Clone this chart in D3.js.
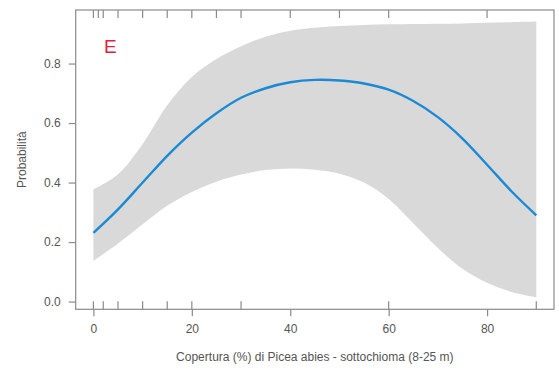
<!DOCTYPE html>
<html><head><meta charset="utf-8">
<script src="https://cdn.jsdelivr.net/npm/d3@7"></script>
<style>body{margin:0;background:#fff}svg{display:block}</style>
</head><body>
<script>
const xs    = [0,5,10,15,20,25,30,35,40,45,50,55,60,65,70,75,80,85,90];
const fit   = [0.231,0.31,0.40,0.49,0.568,0.633,0.685,0.717,0.737,0.745,0.743,0.733,0.712,0.674,0.62,0.548,0.46,0.37,0.29];
const upper = [0.377,0.428,0.53,0.66,0.755,0.815,0.858,0.89,0.91,0.92,0.926,0.93,0.932,0.933,0.934,0.935,0.937,0.939,0.941];
const lower = [0.137,0.195,0.26,0.322,0.368,0.403,0.427,0.442,0.447,0.443,0.43,0.4,0.345,0.263,0.18,0.11,0.063,0.032,0.014];
const rugTop    = [0,1,2,5,10,15,20,25,30,40,50,60,80];
const rugBottom = [0,2,5,10,15,20,30,60,90];
const xTicks = [0,20,40,60,80];
const yTicks = [0,0.2,0.4,0.6,0.8];
const xTitle = "Copertura (%) di Picea abies - sottochioma (8-25 m)";
const yTitle = "Probabilità";
const panel = "E";

const W=559,H=377;
const L=75.7,R=554,T=10,B=309.3;
const svg=d3.select("body").append("svg").attr("width",W).attr("height",H);
const x=d3.scaleLinear().domain([-3.6,93.6]).range([L,R]);
const y=d3.scaleLinear().domain([-0.026,0.98]).range([B,T]);
const data=xs.map((v,i)=>({x:v,f:fit[i],u:upper[i],l:lower[i]}));
const font="'Liberation Sans',Arial,sans-serif";
const grey="#8a8a8a", txt="#555";
const cv=d3.curveCatmullRom.alpha(0.5);

svg.append("path").datum(data)
 .attr("d",d3.area().x(d=>x(d.x)).y0(d=>y(d.l)).y1(d=>y(d.u)).curve(cv))
 .attr("fill","#d9d9d9");
svg.append("path").datum(data)
 .attr("d",d3.line().x(d=>x(d.x)).y(d=>y(d.f)).curve(cv))
 .attr("fill","none").attr("stroke","#1a8ad4").attr("stroke-width",2.4);

// box
svg.append("rect").attr("x",L).attr("y",T).attr("width",R-L).attr("height",B-T)
 .attr("fill","none").attr("stroke",grey).attr("stroke-width",1.2);

// rugs
svg.selectAll(".rt").data(rugTop).enter().append("line")
 .attr("x1",d=>x(d)).attr("x2",d=>x(d)).attr("y1",T).attr("y2",T+8)
 .attr("stroke",grey).attr("stroke-width",1.2);
svg.selectAll(".rb").data(rugBottom).enter().append("line")
 .attr("x1",d=>x(d)).attr("x2",d=>x(d)).attr("y1",B).attr("y2",B-8)
 .attr("stroke",grey).attr("stroke-width",1.2);

// axes
const xa=svg.append("g").attr("transform",`translate(0,${B})`)
 .call(d3.axisBottom(x).tickValues(xTicks).tickSize(7).tickPadding(8).tickFormat(d3.format("d")));
const ya=svg.append("g").attr("transform",`translate(${L},0)`)
 .call(d3.axisLeft(y).tickValues(yTicks).tickSize(7).tickPadding(8).tickFormat(d3.format(".1f")));
[xa,ya].forEach(g=>{
 g.select(".domain").remove();
 g.selectAll(".tick line").attr("stroke",grey).attr("stroke-width",1.2);
 g.selectAll(".tick text").attr("fill",txt).attr("font-family",font).attr("font-size",12);
});

svg.append("text").attr("x",(L+R)/2).attr("y",361).attr("text-anchor","middle")
 .attr("font-family",font).attr("font-size",12).attr("fill",txt).text(xTitle);
svg.append("text").attr("transform",`translate(26,${(T+B)/2}) rotate(-90)`).attr("text-anchor","middle")
 .attr("font-family",font).attr("font-size",12).attr("fill",txt).text(yTitle);
svg.append("text").attr("x",104).attr("y",53).attr("font-family",font).attr("font-size",19)
 .attr("fill","#e0203c").text(panel);
</script>
</body></html>
